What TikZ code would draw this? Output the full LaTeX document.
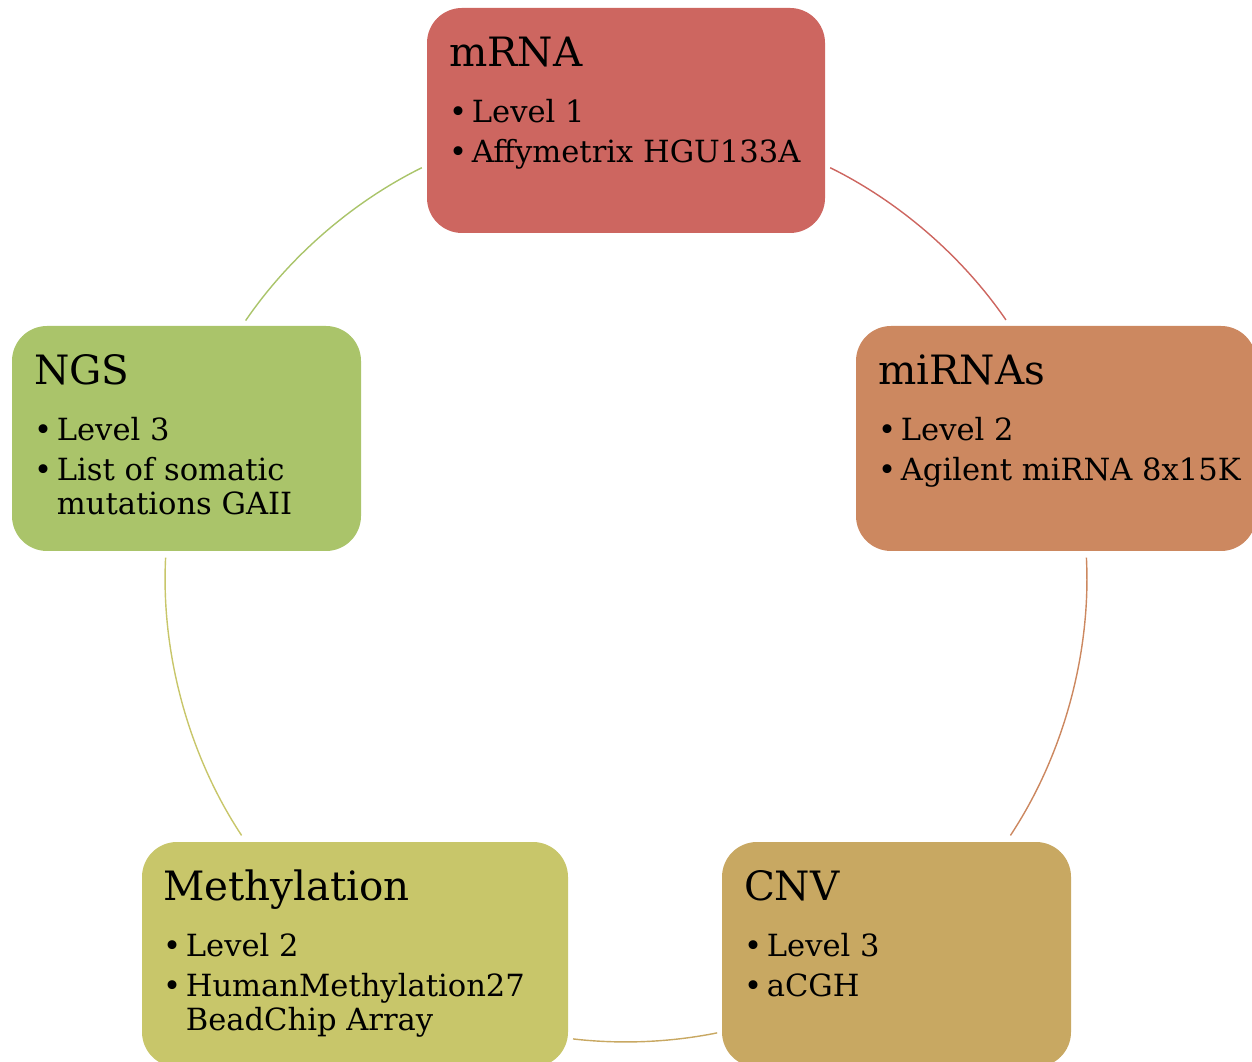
\documentclass[tikz,border=0pt]{standalone}
\usepackage{fontspec}
\setmainfont{DejaVu Serif}

\definecolor{mrnacol}{RGB}{205,102,96}
\definecolor{mirnacol}{RGB}{204,136,96}
\definecolor{cnvcol}{RGB}{200,168,98}
\definecolor{methcol}{RGB}{200,198,106}
\definecolor{ngscol}{RGB}{170,196,106}

\newcommand{\hd}[1]{{\fontsize{23}{27}\selectfont\rule{0pt}{18pt}#1}}
\newcommand{\bul}{\makebox[13pt][l]{\textbullet}}
\newcommand{\ind}{\hspace*{13pt}}

\tikzset{
  tile/.style={rounded corners=0.7cm, minimum width=#1, minimum height=4.5cm, inner sep=0pt},
  info/.style={anchor=north west, inner sep=0pt, align=left, font=\fontsize{17.4}{19.3}\selectfont},
  ring/.style={line width=0.8pt, bend left=#1, looseness=0.85}
}

\begin{document}
\begin{tikzpicture}
    \useasboundingbox (0,0) rectangle (25.04,21.22);

    % boxes
    \node[tile=7.96cm, fill=mrnacol] (mrna) at (12.52,18.81) {};
    \node[tile=8.00cm, fill=mirnacol] (mirna) at (21.12,12.45) {};
    \node[tile=6.98cm, fill=cnvcol] (cnv) at (17.93,2.13) {};
    \node[tile=8.52cm, fill=methcol] (meth) at (7.10,2.13) {};
    \node[tile=6.98cm, fill=ngscol] (ngs) at (3.73,12.45) {};

    % texts
    \node[info] (mrnatxt) at ([shift={(0.44,-0.545)}]mrna.north west)
        {\hd{mRNA}\\[12.3pt] \bul Level 1\\[3.4pt] \bul Affymetrix HGU133A};
    \node[info] (mirnatxt) at ([shift={(0.44,-0.545)}]mirna.north west)
        {\hd{miRNAs}\\[12.3pt] \bul Level 2\\[3.4pt] \bul Agilent miRNA 8x15K};
    \node[info] (cnvtxt) at ([shift={(0.44,-0.545)}]cnv.north west)
        {\hd{CNV}\\[12.3pt] \bul Level 3\\[3.4pt] \bul aCGH};
    \node[info] (methtxt) at ([shift={(0.42,-0.545)}]meth.north west)
        {\hd{Methylation}\\[12.3pt] \bul Level 2\\[3.4pt] \bul HumanMethylation27\\ \ind BeadChip Array};
    \node[info] (ngstxt) at ([shift={(0.44,-0.545)}]ngs.north west)
        {\hd{NGS}\\[12.3pt] \bul Level 3\\[3.4pt] \bul List of somatic\\ \ind mutations GAII};

    % ring
    \coordinate (c) at (12.52,9.60);
    \coordinate (r1) at ([shift={(63.7:9.22)}]c);
    \coordinate (r2) at ([shift={(34.5:9.22)}]c);
    \coordinate (r3) at ([shift={(2.9:9.22)}]c);
    \coordinate (r4) at ([shift={(-33.5:9.22)}]c);
    \coordinate (r5) at ([shift={(-78.6:9.22)}]c);
    \coordinate (r6) at ([shift={(-96.6:9.22)}]c);
    \coordinate (r7) at ([shift={(213.5:9.22)}]c);
    \coordinate (r8) at ([shift={(177.1:9.22)}]c);
    \coordinate (r9) at ([shift={(145.6:9.22)}]c);
    \coordinate (r10) at ([shift={(116.3:9.22)}]c);

    \draw[ring=14.6, mrnacol] (r1) to (r2);
    \draw[ring=18.2, mirnacol] (r3) to (r4);
    \draw[ring=9, cnvcol] (r5) to (r6);
    \draw[ring=18.2, methcol] (r7) to (r8);
    \draw[ring=14.65, ngscol] (r9) to (r10);
\end{tikzpicture}
\end{document}
